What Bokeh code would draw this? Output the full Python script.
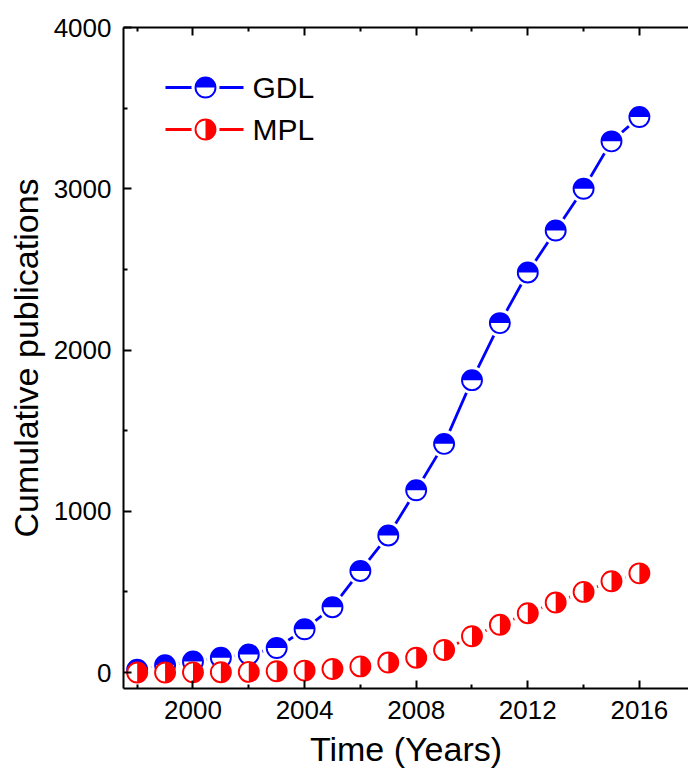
import numpy as np
from bokeh.plotting import figure
from bokeh.models import Range1d, LinearAxis, FixedTicker
from bokeh.core.properties import value
from bokeh.embed import file_html
from bokeh.resources import INLINE

# Cumulative publication counts per year
years = list(range(1998, 2017))
gdl = [18, 45, 68, 92, 112, 152, 268, 405, 630, 850, 1130, 1418, 1813,
       2167, 2481, 2741, 3000, 3294, 3445]
mpl = [0, 0, 1, 2, 4, 8, 12, 22, 38, 62, 92, 140, 225,
       296, 368, 434, 500, 566, 615]

x_major = [2000, 2004, 2008, 2012, 2016]
x_minor = [1998, 2002, 2006, 2010, 2014]
y_major = [0, 1000, 2000, 3000, 4000]
y_minor = [500, 1500, 2500, 3500]

series_names = ["GDL", "MPL"]
BLUE = "#0000FF"
RED = "#FF0000"
FONT = "Liberation Sans"

FRAME_W, FRAME_H = 565, 661

p = figure(width=688, height=773,
           x_range=Range1d(1997.51, 2017.76), y_range=Range1d(-99, 4000),
           output_backend="svg", toolbar_location=None,
           min_border_left=123, min_border_right=0,
           min_border_top=27, min_border_bottom=85,
           outline_line_color=None, background_fill_color="white",
           border_fill_color="white")
p.xgrid.visible = False
p.ygrid.visible = False

xt = FixedTicker(ticks=x_major, minor_ticks=x_minor)
yt = FixedTicker(ticks=y_major, minor_ticks=y_minor)


def style_axis(ax, show_labels=True, show_line=True):
    ax.axis_line_width = 2
    ax.axis_line_color = "black" if show_line else None
    ax.major_tick_line_width = 2
    ax.minor_tick_line_width = 2
    ax.major_tick_in = 8
    ax.major_tick_out = 0
    ax.minor_tick_in = 4
    ax.minor_tick_out = 0
    ax.major_label_text_font = FONT
    ax.major_label_text_font_size = "26px"
    ax.major_label_text_color = "black"
    ax.axis_label_text_font = FONT
    ax.axis_label_text_font_size = "34px"
    ax.axis_label_text_font_style = "normal"
    ax.axis_label_text_color = "black"
    if not show_labels:
        ax.major_label_text_font_size = "0px"
        ax.major_label_text_color = None
        ax.major_label_standoff = 0


p.xaxis.ticker = xt
p.yaxis.ticker = yt
style_axis(p.xaxis[0])
style_axis(p.yaxis[0])
p.xaxis.axis_label = "Time (Years)"
p.yaxis.axis_label = "Cumulative publications"
p.xaxis.major_label_standoff = 12
p.xaxis.axis_label_standoff = 8
p.yaxis.major_label_standoff = 12
p.yaxis.axis_label_standoff = 6

top_axis = LinearAxis(ticker=FixedTicker(ticks=x_major, minor_ticks=x_minor))
style_axis(top_axis, show_labels=False)
p.add_layout(top_axis, "above")

# Connecting lines
p.line(years, gdl, line_color=BLUE, line_width=2.8)
p.line(years, mpl, line_color=RED, line_width=2.8)

# White halos leave a gap in the line around each marker
p.scatter(years, gdl, size=28, fill_color="white", line_color=None)
p.scatter(years, mpl, size=29, fill_color="white", line_color=None)


def half_marker(xs, ys, color, start, end, xr="default", yr="default"):
    p.scatter(xs, ys, size=20, fill_color="white", line_color=color,
              line_width=1.9, x_range_name=xr, y_range_name=yr)
    p.wedge(xs, ys, radius=10, radius_units="screen",
            start_angle=start, end_angle=end,
            fill_color=color, line_color=None,
            x_range_name=xr, y_range_name=yr)


half_marker(years, gdl, BLUE, 0, np.pi)
half_marker(years, mpl, RED, -np.pi / 2, np.pi / 2)

# Legend in pixel coordinates of the plot frame
p.extra_x_ranges["leg_x"] = Range1d(0, FRAME_W)
p.extra_y_ranges["leg_y"] = Range1d(FRAME_H, 0)
leg_y = [60, 102]
leg_colors = [BLUE, RED]
for yy, col in zip(leg_y, leg_colors):
    p.line([42, 120], [yy, yy], line_color=col, line_width=2.8,
           x_range_name="leg_x", y_range_name="leg_y")
    p.scatter([82], [yy], size=28, fill_color="white", line_color=None,
              x_range_name="leg_x", y_range_name="leg_y")
half_marker([82], [leg_y[0]], BLUE, 0, np.pi, "leg_x", "leg_y")
half_marker([82], [leg_y[1]], RED, -np.pi / 2, np.pi / 2, "leg_x", "leg_y")
p.text([129, 129], leg_y, text=series_names, text_font=value(FONT),
       text_font_size="30px", text_baseline="middle", text_color="black",
       x_range_name="leg_x", y_range_name="leg_y")

open("out.html", "w").write(file_html(p, INLINE))
